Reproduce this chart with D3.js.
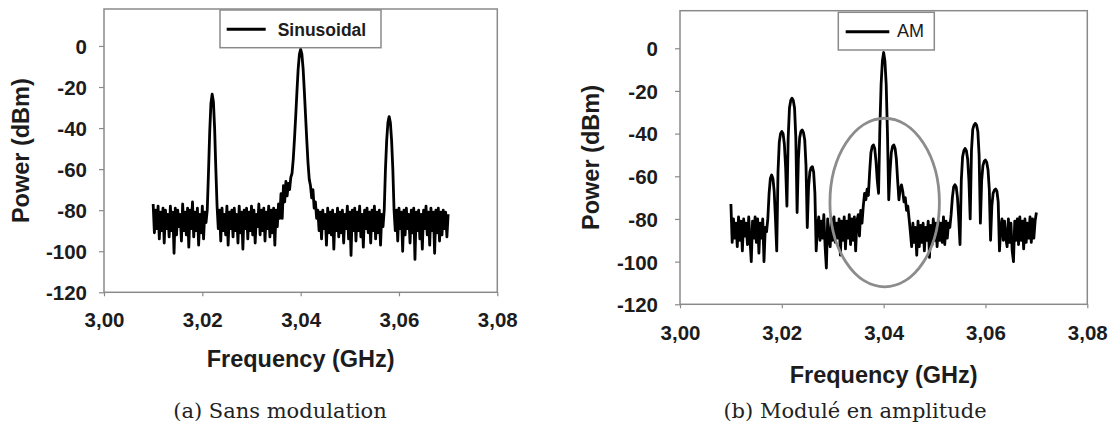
<!DOCTYPE html>
<html><head><meta charset="utf-8">
<script src="https://cdn.jsdelivr.net/npm/d3@7"></script>
<style>body{margin:0;background:#fff}</style>
</head><body>
<svg id="c" width="1114" height="430"></svg>
<script>
// ---- data ----
const freqStart = 3.010, freqStep = 0.00025;   // sample grid of the spectrum analyser trace
const xTicks = [3.00, 3.02, 3.04, 3.06, 3.08];
const yTicks = [0, -20, -40, -60, -80, -100, -120];
const legendLabels = ["Sinusoidal", "AM"];
const captions = ["(a) Sans modulation", "(b) Modulé en amplitude"];
const xTitle = "Frequency (GHz)";
const yTitle = "Power (dBm)";

// (a) sinusoidal modulation trace, dBm
const sinPower = [
 -77,-91,-80,-89,-78,-94,-81,-90,-79,-96,
 -80,-89,-82,-93,-78,-90,-81,-101,-79,-92,
 -80,-88,-82,-95,-77,-90,-81,-92,-79,-98,
 -80,-89,-76,-93,-81,-90,-79,-97,-82,-91,
 -78,-94,-81,-86,
 -80,-62,-42,-28,-23.5,-27,-40,-60,-78,
 -89,-80,-95,-79,-90,-82,-92,-78,-97,-81,
 -89,-80,-93,-79,-90,-82,-96,-78,-91,-81,
 -99,-80,-89,-79,-94,-81,-90,-78,-92,-80,
 -96,-82,-88,-77,-92,-80,-90,-79,-95,-81,
 -89,-78,-93,-80,-91,-79,-97,-80,-88,-77,
 -84,
 -72,-84,-68,-76,-66,-73,-67,-70,-64,
 -62,-55,-45,-34,-22,-11,-4,-1.6,-4,-11,-22,-34,-46,-57,-65,
 -68,-74,-70,-79,-76,-84,-80,
 -90,-81,-94,-80,-89,-82,-97,-79,-91,-81,
 -92,-80,-99,-82,-90,-79,-93,-81,-91,-80,
 -96,-82,-89,-78,-94,-81,-102,-80,-90,-79,
 -95,-81,-90,-78,-93,-82,-98,-80,-89,-79,
 -91,-81,-96,-80,-90,-78,-94,-81,-91,-80,
 -97,-82,-88,
 -80,-60,-46,-37.3,-34.4,-37.3,-46,-60,-80,
 -90,-80,-95,-79,-89,-81,-100,-80,-92,-79,
 -89,-82,-96,-80,-91,-79,-104,-81,-90,-80,
 -94,-82,-99,-80,-89,-78,-92,-81,-97,-79,
 -90,-81,-101,-80,-91,-79,-95,-81,-92,-80,
 -89,-81,-93,-82
];

// (b) amplitude-modulated trace, dBm
const amPower = [
 -73,-91,-80,-89,-82,-93,-79,-90,-81,-95,
 -80,-88,-82,-92,-79,-90,-100,-81,-89,-79,
 -91,-80,-96,-82,-89,-80,-100,-84,
 -86,-80,-68,-61,-59.4,-61,-67,-80,-95,
 -58,-44,-40,-39,-40,-45,-56,-74,
 -42,-28,-24.5,-23.4,-24.5,-28,-42,-77,
 -52,-42,-39,-38.3,-39.5,-43,-55,-84,
 -65,-58,-56,-55.5,-58,-68,-95,
 -84,-79,-90,-81,-89,-78,-93,-103,-80,-89,
 -93,-80,-90,-79,-91,-82,-89,-80,-97,-81,
 -90,-79,-94,-81,-89,-78,-92,-80,-90,-79,
 -95,-81,-78,-88,-76,-82,
 -74,-68,-71,-66,-69,-58,-49,-46,-45.3,-47,-53,-62,-68,
 -38,-17,-6,-2,-6,-17,-40,-71,
 -58,-49,-46,-45.3,-47,-52,-62,-71,
 -66,-64,-67,-72,-70,-76,-74,-80,
 -86,-93,-82,-91,-84,-97,-81,-93,-83,-91,
 -82,-95,-84,-90,-81,-98,-83,-92,-80,-90,
 -82,-93,-81,-90,-82,-91,-79,-92,-81,-89,
 -82,
 -84,-78,-70,-65,-64,-65,-70,-80,-92,
 -62,-51,-48,-47,-48,-52,-62,-80,
 -48,-38,-36,-35.2,-36,-39,-50,-82,
 -62,-55,-53,-52.4,-53.5,-57,-66,-90,
 -74,-68,-66.5,-66,-67,-72,-95,
 -84,-80,-90,-81,-89,-93,-80,-91,-82,-95,
 -100,-81,-90,-80,-92,-79,-90,-81,-94,-80,
 -91,-82,-89,-79,-91,-80,-89,-81,-77
];

// highlight ellipse on (b): centre (GHz, dBm) and radii (GHz, dB)
const ellipseCenter = [3.0402, -72.3];
const ellipseRadii = [0.01075, 39.5];

// ---- layout ----
const svg = d3.select("#c");
const sans = "'Liberation Sans', Arial, sans-serif";
const frameColor = "#8a8a8a";
const textColor = "#1c1c1c";

const charts = [
  {power: sinPower, legend: legendLabels[0], caption: captions[0], legendBold: true,
   x0: 104, x1: 497.3, y0: 9, y1: 292.3, yMax: 18,
   yLabGap: 17, xLabDy: 34.5, xTitleY: 366.5, yTitleX: 29, captionX: 280,
   leg: {x: 220, y: 10, w: 161, h: 37.7, l0: 226.7, l1: 265.7, ly: 29.3, tx: 277.7, ty: 35.7, fs: 17.5}},
  {power: amPower, legend: legendLabels[1], caption: captions[1], legendBold: false, ellipse: true,
   x0: 680, x1: 1087.3, y0: 10.7, y1: 304.3, yMax: 17.6,
   yLabGap: 22, xLabDy: 35.5, xTitleY: 383, yTitleX: 599, captionX: 855,
   leg: {x: 838.3, y: 12.3, w: 96, h: 37.7, l0: 845.7, l1: 889.3, ly: 31.7, tx: 897, ty: 37.3, fs: 18}}
];

const fmtX = d => d3.format(".2f")(d).replace(".", ",");

charts.forEach(cfg => {
  const g = svg.append("g");
  const x = d3.scaleLinear().domain([3.00, 3.08]).range([cfg.x0, cfg.x1]);
  const y = d3.scaleLinear().domain([-120, cfg.yMax]).range([cfg.y1, cfg.y0]);

  // frame
  g.append("rect").attr("x", cfg.x0).attr("y", cfg.y0)
    .attr("width", cfg.x1 - cfg.x0).attr("height", cfg.y1 - cfg.y0)
    .attr("fill", "none").attr("stroke", frameColor).attr("stroke-width", 1.5);

  // x axis
  const xa = g.append("g").attr("transform", `translate(0,${cfg.y1})`)
    .call(d3.axisBottom(x).tickValues(xTicks).tickSize(4).tickFormat(fmtX));
  xa.select(".domain").remove();
  xa.selectAll("line").attr("stroke", frameColor).attr("stroke-width", 1.2);
  xa.selectAll("text").attr("y", cfg.xLabDy).attr("dy", 0)
    .attr("font-family", sans).attr("font-weight", "bold").attr("font-size", 20.5)
    .attr("fill", textColor);

  // y axis
  const ya = g.append("g").attr("transform", `translate(${cfg.x0},0)`)
    .call(d3.axisLeft(y).tickValues(yTicks).tickSize(5).tickFormat(d => String(d)));
  ya.select(".domain").remove();
  ya.selectAll("line").attr("stroke", frameColor).attr("stroke-width", 1.2);
  ya.selectAll("text").attr("x", -cfg.yLabGap).attr("dy", "0.36em")
    .attr("font-family", sans).attr("font-weight", "bold").attr("font-size", 20.5)
    .attr("fill", textColor);

  // trace
  const data = cfg.power.map((p, i) => ({f: freqStart + i * freqStep, p}));
  g.append("path").datum(data)
    .attr("d", d3.line().x(d => x(d.f)).y(d => y(d.p)))
    .attr("fill", "none").attr("stroke", "#000").attr("stroke-width", 2.8)
    .attr("stroke-linejoin", "round");

  // ellipse
  if (cfg.ellipse) {
    const cx = x(ellipseCenter[0]), cy = y(ellipseCenter[1]);
    g.append("ellipse").attr("cx", cx).attr("cy", cy)
      .attr("rx", x(ellipseCenter[0] + ellipseRadii[0]) - cx)
      .attr("ry", y(ellipseCenter[1] - ellipseRadii[1]) - cy)
      .attr("fill", "none").attr("stroke", "#8c8c8c").attr("stroke-width", 2.8);
  }

  // legend
  const L = cfg.leg;
  g.append("rect").attr("x", L.x).attr("y", L.y).attr("width", L.w).attr("height", L.h)
    .attr("fill", "#fff").attr("stroke", frameColor).attr("stroke-width", 1.5);
  g.append("line").attr("x1", L.l0).attr("x2", L.l1).attr("y1", L.ly).attr("y2", L.ly)
    .attr("stroke", "#000").attr("stroke-width", 3);
  g.append("text").attr("x", L.tx).attr("y", L.ty).text(cfg.legend)
    .attr("font-family", sans).attr("font-weight", cfg.legendBold ? "bold" : "normal")
    .attr("font-size", L.fs).attr("fill", textColor);

  // axis titles
  g.append("text").attr("x", (cfg.x0 + cfg.x1) / 2).attr("y", cfg.xTitleY)
    .attr("text-anchor", "middle").text(xTitle)
    .attr("font-family", sans).attr("font-weight", "bold").attr("font-size", 23.5)
    .attr("fill", textColor);
  g.append("text")
    .attr("transform", `translate(${cfg.yTitleX},${(cfg.y0 + cfg.y1) / 2}) rotate(-90)`)
    .attr("text-anchor", "middle").text(yTitle)
    .attr("font-family", sans).attr("font-weight", "bold").attr("font-size", 23.5)
    .attr("fill", textColor);

  // caption
  g.append("text").attr("x", cfg.captionX).attr("y", 418)
    .attr("text-anchor", "middle").text(cfg.caption)
    .attr("font-family", "'DejaVu Serif', serif").attr("font-size", 21)
    .attr("fill", "#222");
});
</script>
</body></html>
